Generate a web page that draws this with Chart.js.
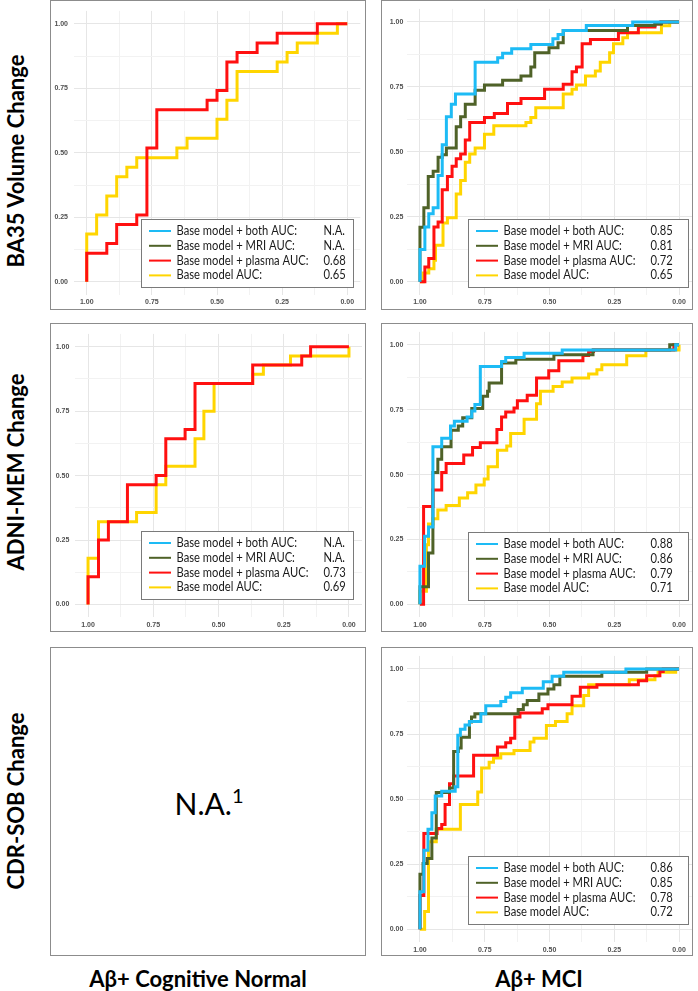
<!DOCTYPE html>
<html>
<head>
<meta charset="utf-8">
<script src="https://cdn.jsdelivr.net/npm/chart.js@4.4.1/dist/chart.umd.min.js"></script>
<style>
  body { margin: 0; background: #fff; width: 698px; height: 991px; position: relative; overflow: hidden; font-family: Lato, "Noto Sans", sans-serif; }
  .panel { position: absolute; border: 1px solid #8c8c8c; box-sizing: border-box; background: #fff; }
  .panel canvas { position: absolute; left: 0; top: 0; }
  .rowlab { position: absolute; font: bold 22px Lato, sans-serif; white-space: nowrap; transform: translate(-50%, -50%) rotate(-90deg); }
  .collab { position: absolute; font: bold 22px Lato, sans-serif; white-space: nowrap; transform: translate(-50%, -50%); }
  .na { position: absolute; left: 209px; top: 803px; transform: translate(-50%, -50%); font: 30px Lato, sans-serif; white-space: nowrap; }
  .na sup { font-size: 20px; vertical-align: 12px; line-height: 0; }
</style>
</head>
<body>

<div class="rowlab" style="left:15px;top:161px">BA35 Volume Change</div>
<div class="rowlab" style="left:15px;top:472px">ADNI-MEM Change</div>
<div class="rowlab" style="left:15px;top:801px">CDR-SOB Change</div>

<div class="panel" style="left:50px;top:0;width:316px;height:310px"><canvas id="ba35Cn" width="314" height="308"></canvas></div>
<div class="panel" style="left:381px;top:0;width:312px;height:310px"><canvas id="ba35Mci" width="310" height="308"></canvas></div>
<div class="panel" style="left:50px;top:323px;width:316px;height:309px"><canvas id="memCn" width="314" height="307"></canvas></div>
<div class="panel" style="left:381px;top:323px;width:312px;height:309px"><canvas id="memMci" width="310" height="307"></canvas></div>
<div class="panel" style="left:50px;top:647px;width:316px;height:309px"></div>
<div class="panel" style="left:381px;top:647px;width:312px;height:309px"><canvas id="cdrMci" width="310" height="307"></canvas></div>

<div class="na">N.A.<sup>1</sup></div>

<div class="collab" style="left:198px;top:978px">Aβ+ Cognitive Normal</div>
<div class="collab" style="left:539px;top:978px">Aβ+ MCI</div>

<script>
// legend text and colours
const seriesNames = ['Base model + both AUC:', 'Base model + MRI AUC:', 'Base model + plasma AUC:', 'Base model AUC:'];
const seriesColors = ['#1DBBF5', '#4F6228', '#FF1010', '#FFD500'];

// axis ticks (specificity runs 1 -> 0)
const tickValues = [0, 0.25, 0.5, 0.75, 1];
const tickLabels = ['0.00', '0.25', '0.50', '0.75', '1.00'];
const gridValues = [0, 0.125, 0.25, 0.375, 0.5, 0.625, 0.75, 0.875, 1];

// AUC values shown in the legends
const ba35CnAuc = ['N.A.', 'N.A.', '0.68', '0.65'];
const ba35MciAuc = ['0.85', '0.81', '0.72', '0.65'];
const memCnAuc = ['N.A.', 'N.A.', '0.73', '0.69'];
const memMciAuc = ['0.88', '0.86', '0.79', '0.71'];
const cdrMciAuc = ['0.86', '0.85', '0.78', '0.72'];

// ROC corners: each point = go up to sens at previous spec, then across to spec
// BA35, Abeta+ CN
const ba35CnPlasmaSpec = [1, 0.923, 0.885, 0.808, 0.769, 0.731, 0.538, 0.5, 0.462, 0.423, 0.346, 0.269, 0.115, 0];
const ba35CnPlasmaSens = [0, 0.111, 0.148, 0.222, 0.259, 0.519, 0.667, 0.704, 0.741, 0.852, 0.889, 0.926, 0.963, 1];
const ba35CnBaseSpec = [1, 0.962, 0.923, 0.885, 0.846, 0.808, 0.654, 0.615, 0.5, 0.462, 0.423, 0.269, 0.231, 0.192, 0.115, 0.038, 0];
const ba35CnBaseSens = [0, 0.185, 0.259, 0.333, 0.407, 0.444, 0.481, 0.519, 0.556, 0.630, 0.704, 0.815, 0.852, 0.889, 0.926, 0.963, 1];

// BA35, Abeta+ MCI
const ba35MciBothSpec = [1, 0.981, 0.966, 0.949, 0.930, 0.914, 0.898, 0.879, 0.863, 0.787, 0.700, 0.681, 0.646, 0.572, 0.487, 0.467, 0.447, 0.358, 0.179, 0];
const ba35MciBothSens = [0, 0.124, 0.211, 0.262, 0.285, 0.409, 0.527, 0.635, 0.683, 0.722, 0.845, 0.862, 0.879, 0.897, 0.913, 0.935, 0.951, 0.967, 0.986, 1];
const ba35MciMriSpec = [1, 0.985, 0.968, 0.949, 0.930, 0.914, 0.898, 0.860, 0.843, 0.825, 0.787, 0.751, 0.681, 0.610, 0.572, 0.557, 0.502, 0.467, 0.447, 0.199, 0.093, 0.068, 0];
const ba35MciMriSens = [0, 0.21, 0.285, 0.405, 0.425, 0.479, 0.489, 0.515, 0.596, 0.635, 0.683, 0.737, 0.757, 0.775, 0.792, 0.826, 0.881, 0.900, 0.920, 0.967, 0.986, 0.992, 1];
const ba35MciPlasmaSpec = [1, 0.981, 0.966, 0.946, 0.930, 0.914, 0.894, 0.876, 0.860, 0.843, 0.825, 0.808, 0.751, 0.713, 0.662, 0.610, 0.519, 0.447, 0.413, 0.396, 0.374, 0.342, 0.234, 0.157, 0.093, 0.072, 0];
const ba35MciPlasmaSens = [0, 0, 0.057, 0.089, 0.211, 0.230, 0.354, 0.405, 0.444, 0.473, 0.492, 0.545, 0.613, 0.632, 0.647, 0.686, 0.705, 0.741, 0.760, 0.808, 0.826, 0.916, 0.932, 0.958, 0.980, 0.992, 1];
const ba35MciBaseSpec = [1, 0.987, 0.966, 0.946, 0.940, 0.911, 0.894, 0.860, 0.843, 0.825, 0.808, 0.787, 0.751, 0.715, 0.591, 0.572, 0.553, 0.447, 0.413, 0.396, 0.361, 0.323, 0.304, 0.268, 0.253, 0.217, 0.199, 0.068, 0.036, 0];
const ba35MciBaseSens = [0, 0, 0.034, 0.050, 0.083, 0.140, 0.226, 0.246, 0.338, 0.390, 0.460, 0.492, 0.515, 0.568, 0.600, 0.613, 0.632, 0.670, 0.722, 0.741, 0.757, 0.792, 0.811, 0.845, 0.881, 0.916, 0.939, 0.958, 0.985, 1];

// ADNI-MEM, Abeta+ CN
const memCnPlasmaSpec = [1, 0.960, 0.922, 0.849, 0.739, 0.702, 0.628, 0.590, 0.369, 0.181, 0.147, 0];
const memCnPlasmaSens = [0, 0.107, 0.250, 0.321, 0.464, 0.500, 0.643, 0.679, 0.857, 0.929, 0.964, 1];
const memCnBaseSpec = [1, 0.960, 0.814, 0.739, 0.702, 0.590, 0.556, 0.517, 0.369, 0.328, 0.224, 0, 0];
const memCnBaseSens = [0, 0.179, 0.321, 0.357, 0.464, 0.536, 0.643, 0.750, 0.857, 0.893, 0.929, 0.964, 1];

// ADNI-MEM, Abeta+ MCI
const memMciBothSpec = [1, 0.982, 0.967, 0.950, 0.916, 0.882, 0.867, 0.818, 0.800, 0.788, 0.767, 0.685, 0.669, 0.598, 0.451, 0.013, 0];
const memMciBothSens = [0, 0.147, 0.262, 0.298, 0.607, 0.640, 0.687, 0.706, 0.722, 0.745, 0.770, 0.917, 0.936, 0.951, 0.968, 0.980, 1];
const memMciMriSpec = [1, 0.967, 0.950, 0.931, 0.916, 0.880, 0.852, 0.835, 0.800, 0.758, 0.739, 0.733, 0.685, 0.630, 0.483, 0.332, 0.036, 0];
const memMciMriSens = [0, 0.068, 0.198, 0.508, 0.559, 0.607, 0.671, 0.687, 0.719, 0.755, 0.802, 0.821, 0.853, 0.930, 0.945, 0.962, 0.980, 1];
const memMciPlasmaSpec = [1, 0.986, 0.950, 0.916, 0.899, 0.831, 0.797, 0.767, 0.703, 0.685, 0.669, 0.637, 0.624, 0.586, 0.550, 0.503, 0.464, 0.371, 0.349, 0.330, 0.020, 0];
const memMciPlasmaSens = [0, 0, 0.377, 0.441, 0.508, 0.543, 0.576, 0.604, 0.623, 0.674, 0.722, 0.741, 0.757, 0.785, 0.806, 0.872, 0.900, 0.939, 0.959, 0.974, 0.980, 1];
const memMciBaseSpec = [1, 0.975, 0.967, 0.950, 0.931, 0.899, 0.848, 0.816, 0.784, 0.752, 0.737, 0.701, 0.665, 0.650, 0.598, 0.550, 0.535, 0.486, 0.451, 0.413, 0.349, 0.317, 0.298, 0.202, 0.128, 0, 0];
const memMciBaseSens = [0, 0.05, 0.23, 0.31, 0.33, 0.364, 0.381, 0.41, 0.43, 0.46, 0.483, 0.53, 0.594, 0.61, 0.658, 0.713, 0.773, 0.821, 0.840, 0.857, 0.872, 0.888, 0.904, 0.923, 0.958, 0.980, 1];

// CDR-SOB, Abeta+ MCI
const cdrMciBothSpec = [1, 0.985, 0.969, 0.954, 0.941, 0.916, 0.864, 0.854, 0.844, 0.826, 0.809, 0.765, 0.746, 0.688, 0.669, 0.650, 0.605, 0.524, 0.490, 0.445, 0.205, 0];
const cdrMciBothSens = [0, 0.144, 0.304, 0.384, 0.448, 0.512, 0.530, 0.547, 0.745, 0.768, 0.785, 0.798, 0.828, 0.859, 0.875, 0.891, 0.908, 0.926, 0.951, 0.972, 0.987, 1];
const cdrMciMriSpec = [1, 0.988, 0.972, 0.954, 0.937, 0.886, 0.870, 0.852, 0.841, 0.809, 0.801, 0.788, 0.621, 0.601, 0.586, 0.541, 0.506, 0.483, 0.460, 0.298, 0.125, 0];
const cdrMciMriSens = [0, 0.211, 0.253, 0.272, 0.351, 0.525, 0.543, 0.683, 0.696, 0.738, 0.796, 0.815, 0.828, 0.844, 0.862, 0.879, 0.904, 0.923, 0.939, 0.972, 0.987, 1];
const cdrMciPlasmaSpec = [1, 0.985, 0.934, 0.916, 0.903, 0.886, 0.870, 0.793, 0.701, 0.669, 0.650, 0.634, 0.614, 0.528, 0.506, 0.413, 0.381, 0.317, 0.157, 0.125, 0.074, 0.061, 0];
const cdrMciPlasmaSens = [0, 0.13, 0.368, 0.387, 0.402, 0.479, 0.559, 0.589, 0.668, 0.700, 0.716, 0.734, 0.815, 0.831, 0.847, 0.862, 0.895, 0.930, 0.939, 0.955, 0.974, 0.990, 1];
const cdrMciBaseSpec = [1, 0.982, 0.967, 0.937, 0.844, 0.777, 0.762, 0.733, 0.716, 0.688, 0.637, 0.575, 0.560, 0.512, 0.477, 0.432, 0.413, 0.368, 0.349, 0.192, 0.093, 0.081, 0.013, 0];
const cdrMciBaseSens = [0, 0, 0.068, 0.336, 0.384, 0.479, 0.527, 0.619, 0.642, 0.658, 0.674, 0.687, 0.719, 0.734, 0.783, 0.798, 0.828, 0.859, 0.898, 0.939, 0.958, 0.974, 0.987, 1];

function curve(spec, sens) {
  return spec.map((x, i) => ({ x: x, y: sens[i] }));
}

function isMajor(v) {
  return tickValues.some(t => Math.abs(t - v) < 1e-6);
}

// draws the boxed legend with the AUC column
const aucBox = {
  id: 'aucBox',
  afterDatasetsDraw(chart, args, o) {
    const ctx = chart.ctx, a = chart.chartArea;
    const x = Math.round(a.right - o.right - o.width);
    const y = Math.round(a.bottom - o.bottom - o.height);
    ctx.save();
    ctx.fillStyle = '#fff';
    ctx.fillRect(x, y, o.width, o.height);
    ctx.strokeStyle = '#7a7a7a';
    ctx.lineWidth = 1;
    ctx.strokeRect(x + 0.5, y + 0.5, o.width, o.height);
    ctx.font = '12.5px Lato';
    ctx.textBaseline = 'middle';
    // squeeze the text a little, the original face is narrower than Lato
    const sx = 132 / ctx.measureText(seriesNames[2]).width;
    seriesNames.forEach((name, i) => {
      const ry = y + 12 + i * 14.8;
      ctx.strokeStyle = seriesColors[i];
      ctx.lineWidth = 2;
      ctx.beginPath();
      ctx.moveTo(x + 8, ry);
      ctx.lineTo(x + 30, ry);
      ctx.stroke();
      ctx.fillStyle = '#1a1a1a';
      ctx.save();
      ctx.translate(x + 35.5, ry);
      ctx.scale(sx, 1);
      ctx.fillText(name, 0, 0);
      ctx.restore();
      ctx.save();
      ctx.translate(x + 182.5, ry);
      ctx.scale(sx, 1);
      ctx.fillText(o.values[i], 0, 0);
      ctx.restore();
    });
    ctx.restore();
  }
};

function axis(fit, padding, extra) {
  return Object.assign({
    type: 'linear',
    min: -0.05,
    max: 1.05,
    afterBuildTicks: s => { s.ticks = gridValues.map(v => ({ value: v })); },
    afterFit: fit,
    ticks: {
      autoSkip: false,
      maxRotation: 0,
      padding: padding,
      color: '#505050',
      font: { family: 'Liberation Sans', size: 7, weight: 'bold' },
      callback: v => {
        const i = tickValues.findIndex(t => Math.abs(t - v) < 1e-6);
        return i < 0 ? '' : tickLabels[i];
      }
    },
    grid: {
      drawTicks: false,
      color: c => isMajor(c.tick.value) ? '#e6e6e6' : '#f2f2f2',
      lineWidth: 1
    },
    border: { display: false }
  }, extra);
}

function makePanel(id, curves, auc, lay) {
  const datasets = curves.map(c => ({
    label: seriesNames[c.k],
    data: curve(c.spec, c.sens),
    borderColor: seriesColors[c.k],
    borderWidth: 3,
    stepped: 'after',
    pointRadius: 0,
    fill: false,
    order: c.k
  }));
  new Chart(document.getElementById(id), {
    type: 'line',
    data: { datasets: datasets },
    options: {
      responsive: false,
      animation: false,
      events: [],
      layout: { padding: { top: lay.top, right: lay.right, left: 0, bottom: 0 } },
      plugins: {
        legend: { display: false },
        tooltip: { enabled: false },
        aucBox: { values: auc, width: lay.boxW, height: 68, right: lay.boxR, bottom: lay.boxB }
      },
      scales: {
        x: axis(s => { s.height = lay.xh; }, 3.5, { reverse: true }),
        y: axis(s => { s.width = lay.yw; }, lay.ypad, {})
      }
    },
    plugins: [aucBox]
  });
}

function build() {
  makePanel('ba35Cn', [
    { k: 2, spec: ba35CnPlasmaSpec, sens: ba35CnPlasmaSens },
    { k: 3, spec: ba35CnBaseSpec, sens: ba35CnBaseSens }
  ], ba35CnAuc, { top: 6.7, right: 4.7, xh: 14.3, yw: 22.7, ypad: 5.7, boxW: 212, boxR: 7, boxB: 7.7 });

  makePanel('ba35Mci', [
    { k: 0, spec: ba35MciBothSpec, sens: ba35MciBothSens },
    { k: 1, spec: ba35MciMriSpec, sens: ba35MciMriSens },
    { k: 2, spec: ba35MciPlasmaSpec, sens: ba35MciPlasmaSens },
    { k: 3, spec: ba35MciBaseSpec, sens: ba35MciBaseSens }
  ], ba35MciAuc, { top: 6.7, right: 0, xh: 14.3, yw: 25, ypad: 3.7, boxW: 220, boxR: 4, boxB: 7.7 });

  makePanel('memCn', [
    { k: 2, spec: memCnPlasmaSpec, sens: memCnPlasmaSens },
    { k: 3, spec: memCnBaseSpec, sens: memCnBaseSens }
  ], memCnAuc, { top: 6.3, right: 3, xh: 13.7, yw: 24, ypad: 5.7, boxW: 212, boxR: 8.7, boxB: 18 });

  makePanel('memMci', [
    { k: 0, spec: memMciBothSpec, sens: memMciBothSens },
    { k: 1, spec: memMciMriSpec, sens: memMciMriSens },
    { k: 2, spec: memMciPlasmaSpec, sens: memMciPlasmaSens },
    { k: 3, spec: memMciBaseSpec, sens: memMciBaseSens }
  ], memMciAuc, { top: 6.3, right: 0, xh: 13.7, yw: 25, ypad: 3.7, boxW: 220, boxR: 4, boxB: 17 });

  makePanel('cdrMci', [
    { k: 0, spec: cdrMciBothSpec, sens: cdrMciBothSens },
    { k: 1, spec: cdrMciMriSpec, sens: cdrMciMriSens },
    { k: 2, spec: cdrMciPlasmaSpec, sens: cdrMciPlasmaSens },
    { k: 3, spec: cdrMciBaseSpec, sens: cdrMciBaseSens }
  ], cdrMciAuc, { top: 7.3, right: 0, xh: 12.7, yw: 25, ypad: 3.7, boxW: 220, boxR: 4, boxB: 18 });
}

Promise.all([
  document.fonts.load('12px Lato'),
  document.fonts.load('bold 7px "Liberation Sans"')
]).then(build, build);
</script>
</body>
</html>
